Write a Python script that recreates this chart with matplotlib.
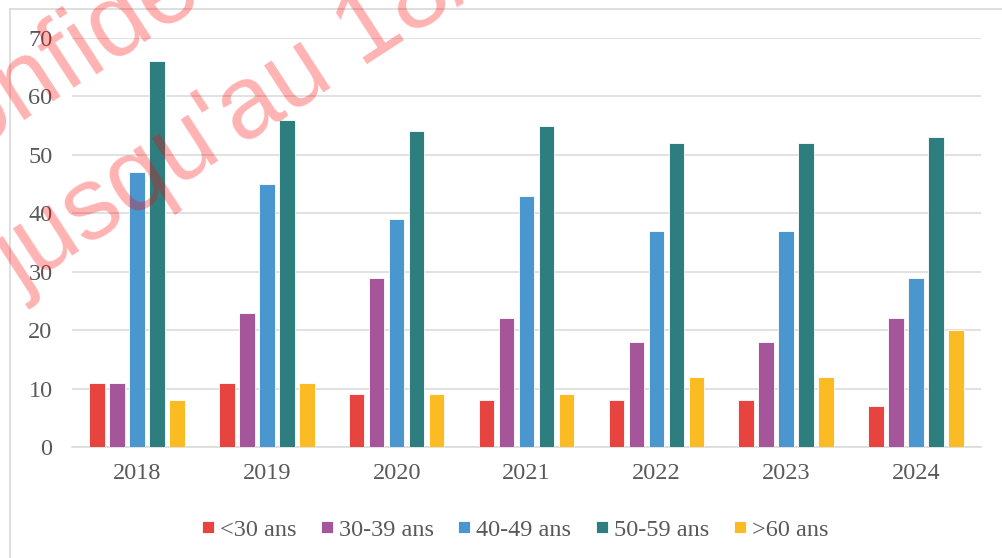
import numpy as np
import matplotlib
matplotlib.use("Agg")
import matplotlib.pyplot as plt
from matplotlib.lines import Line2D

years = ["2018", "2019", "2020", "2021", "2022", "2023", "2024"]
series_names = ["<30 ans", "30-39 ans", "40-49 ans", "50-59 ans", ">60 ans"]
under_30 = [11, 11, 9, 8, 8, 8, 7]
age_30_39 = [11, 23, 29, 22, 18, 18, 22]
age_40_49 = [47, 45, 39, 43, 37, 37, 29]
age_50_59 = [66, 56, 54, 55, 52, 52, 53]
over_60 = [8, 11, 9, 9, 12, 12, 20]
colors = ["#E8443F", "#A5569A", "#4A96CF", "#2E7D7F", "#FBBB22"]

W, H = 1002, 558
plt.rcParams["font.family"] = ["Liberation Serif", "DejaVu Serif"]
fig = plt.figure(figsize=(W / 100, H / 100), dpi=100)
ax = fig.add_axes([72 / W, 1 - 447 / H, (981 - 72) / W, (447 - 38) / H])

x = np.arange(len(years))
step = 0.154
width = 0.12
all_series = [under_30, age_30_39, age_40_49, age_50_59, over_60]
for i in range(len(all_series)):
    ax.bar(x + (i - 2) * step, all_series[i], width, color=colors[i],
           edgecolor="white", linewidth=0.6, label=series_names[i], zorder=3)

ax.set_xlim(-0.5, len(years) - 0.5)
ax.set_ylim(0, 70)
ax.set_yticks(range(0, 71, 10))
ax.set_xticks(x)
ax.set_xticklabels(years)
ax.grid(axis="y", color="#D9D9D9", linewidth=1.1, zorder=0)
ax.set_axisbelow(True)
for s in ["top", "right", "left"]:
    ax.spines[s].set_visible(False)
ax.spines["bottom"].set_color("#D9D9D9")
ax.spines["bottom"].set_linewidth(1.1)
ax.tick_params(axis="both", length=0, labelsize=17.5, colors="#595959")
ax.tick_params(axis="x", pad=11.5)
ax.tick_params(axis="y", pad=14)

fig.legend(loc="center", bbox_to_anchor=(515 / W, 1 - 530 / H), ncol=5,
           frameon=False, fontsize=17.5, labelcolor="#595959",
           handlelength=0.5, handleheight=0.42, handletextpad=0.25,
           columnspacing=1.0)

# chart frame (cropped)
fig.add_artist(Line2D([10 / W, 10 / W], [0, 1 - 9 / H], transform=fig.transFigure,
                      color="#D9D9D9", linewidth=1.2))
fig.add_artist(Line2D([10 / W, 1], [1 - 9 / H, 1 - 9 / H], transform=fig.transFigure,
                      color="#D9D9D9", linewidth=1.2))

# watermark
wm = dict(rotation=33, rotation_mode="anchor", ha="left", va="baseline",
          fontsize=74, family=["Liberation Sans", "DejaVu Sans"],
          color="red", alpha=0.3, zorder=10)
fig.text(-92 / W, 366 / H, "Confidentiel", **wm)
fig.text(20 / W, 266 / H, "jusqu'au 18/", **wm)

fig.savefig("out.png", dpi=100)
